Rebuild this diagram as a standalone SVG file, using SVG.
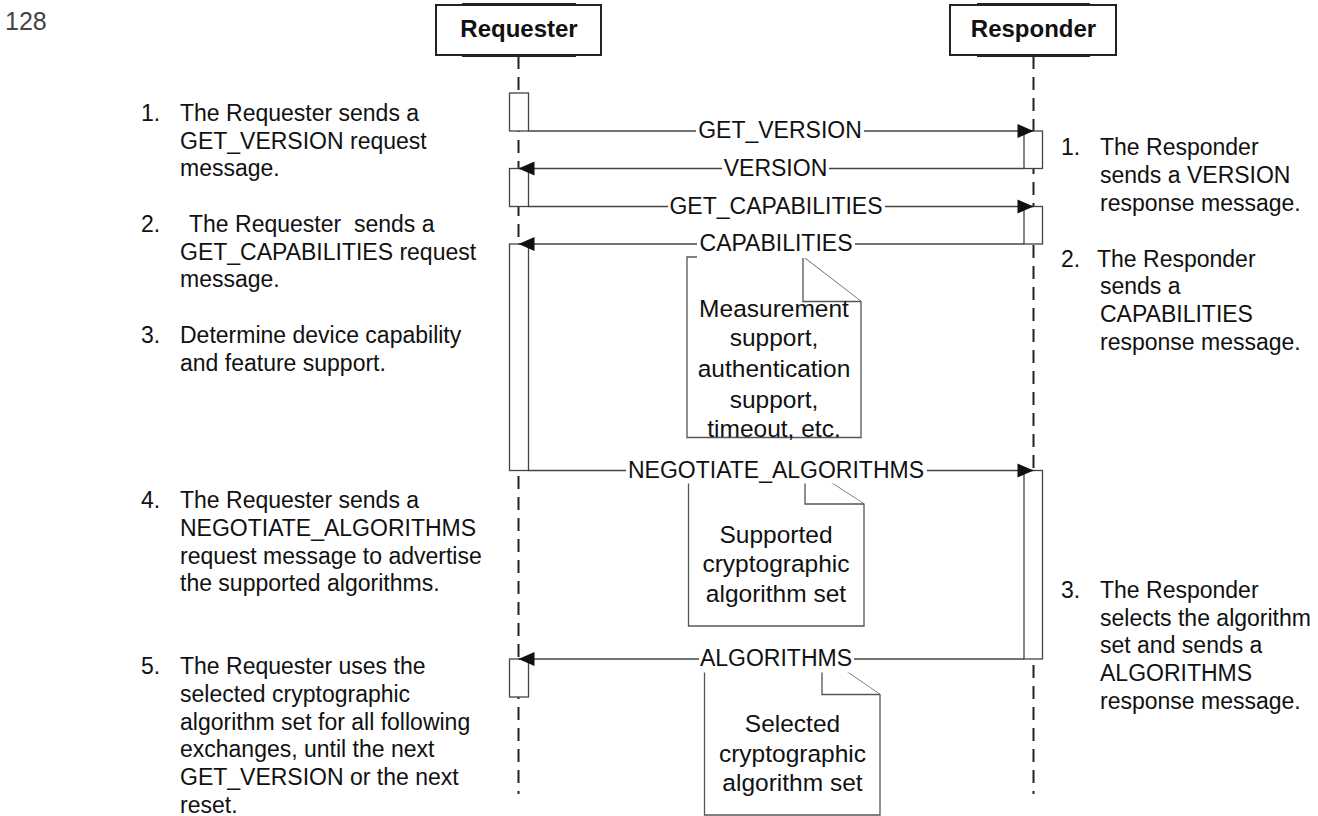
<svg xmlns="http://www.w3.org/2000/svg" width="1318" height="816" viewBox="0 0 1318 816">
  <defs>
    <style>
      .t { font-family: "Liberation Sans", Arial, sans-serif; font-size: 23px; fill: #111; }
      .title { font-family: "Liberation Sans", Arial, sans-serif; font-size: 24px; font-weight: bold; fill: #111; text-anchor: middle; }
      .note-t { font-family: "Liberation Sans", Arial, sans-serif; font-size: 24.5px; fill: #111; text-anchor: middle; }
      .lbl { font-family: "Liberation Sans", Arial, sans-serif; font-size: 23px; fill: #111; text-anchor: middle; }
      .head { fill: #fff; stroke: #222; stroke-width: 2; }
      .head-bar { stroke: #222; stroke-width: 3; }
      .life { stroke: #222; stroke-width: 2; stroke-dasharray: 13 8; fill: none; }
      .act { fill: #fff; stroke: #444; stroke-width: 1.3; }
      .note { fill: #fff; stroke: #555; stroke-width: 1.3; stroke-linejoin: miter; }
      .msg { stroke: #444; stroke-width: 1.3; fill: none; marker-end: url(#arrow); }
      .lbl-bg { fill: #fff; }
    </style>
    <marker id="arrow" markerUnits="userSpaceOnUse" markerWidth="17" markerHeight="14" refX="16" refY="7" orient="auto" overflow="visible">
      <path d="M0,0 L16,7 L0,14 Z" fill="#111"/>
    </marker>
  </defs>

  <rect width="1318" height="816" fill="#fff"/>

  <!-- page number -->
  <text x="5" y="30" style="font-family: 'Liberation Sans', Arial, sans-serif; font-size: 25px; fill: #444;">128</text>

  <!-- Requester lifeline -->
  <g id="requester">
    <line class="life" x1="518.5" y1="56" x2="518.5" y2="794"/>
    <rect class="head" x="436" y="5" width="165" height="50"/>
    <line class="head-bar" x1="462" y1="4.5" x2="576" y2="4.5"/>
    <line class="head-bar" x1="462" y1="55.5" x2="576" y2="55.5"/>
    <text class="title" x="519" y="36.5">Requester</text>
  </g>

  <!-- Responder lifeline -->
  <g id="responder">
    <line class="life" x1="1033.5" y1="56" x2="1033.5" y2="794"/>
    <rect class="head" x="950" y="5" width="166" height="50"/>
    <line class="head-bar" x1="977" y1="4.5" x2="1090" y2="4.5"/>
    <line class="head-bar" x1="977" y1="55.5" x2="1090" y2="55.5"/>
    <text class="title" x="1033.5" y="36.5">Responder</text>
  </g>

  <!-- activation bars -->
  <g id="activations">
    <rect class="act" x="509.5" y="93" width="19" height="38"/>
    <rect class="act" x="509.5" y="168.5" width="19" height="38"/>
    <rect class="act" x="509.5" y="244" width="19" height="226.5"/>
    <rect class="act" x="509.5" y="659" width="19" height="38"/>
    <rect class="act" x="1024" y="131" width="18.5" height="37.5"/>
    <rect class="act" x="1024" y="206.5" width="18.5" height="37.5"/>
    <rect class="act" x="1024" y="470.5" width="18.5" height="188.5"/>
  </g>

  <!-- notes attached to messages -->
  <g id="note-capabilities">
    <path class="note" d="M687,257 H803 L861,301.5 V437.5 H687 Z"/>
    <path class="note" d="M803,257 V301.5 H861" fill="none"/>
    <text class="note-t" x="774" y="316.7">Measurement</text>
    <text class="note-t" x="774" y="346">support,</text>
    <text class="note-t" x="774" y="376.5">authentication</text>
    <text class="note-t" x="774" y="407.5">support,</text>
    <text class="note-t" x="774" y="437">timeout, etc.</text>
  </g>

  <g id="note-negotiate">
    <path class="note" d="M688.5,466 H805 L864,504 V626 H688.5 Z"/>
    <path class="note" d="M805,466 V504 H864" fill="none"/>
    <text class="note-t" x="776" y="543.3">Supported</text>
    <text class="note-t" x="776" y="572.3">cryptographic</text>
    <text class="note-t" x="776" y="601.5">algorithm set</text>
  </g>

  <g id="note-algorithms">
    <path class="note" d="M704.5,655 H822 L880,694.5 V815 H704.5 Z"/>
    <path class="note" d="M822,655 V694.5 H880" fill="none"/>
    <text class="note-t" x="792.5" y="732">Selected</text>
    <text class="note-t" x="792.5" y="761.5">cryptographic</text>
    <text class="note-t" x="792.5" y="790.5">algorithm set</text>
  </g>

  <!-- messages -->
  <g id="connectors">
    <line class="msg" x1="528.5" y1="131" x2="1033.5" y2="131"/>
    <line class="msg" x1="1024" y1="168.5" x2="518.5" y2="168.5"/>
    <line class="msg" x1="528.5" y1="206.5" x2="1033.5" y2="206.5"/>
    <line class="msg" x1="1024" y1="244" x2="518.5" y2="244"/>
    <line class="msg" x1="528.5" y1="470.5" x2="1033.5" y2="470.5"/>
    <line class="msg" x1="1024" y1="659" x2="518.5" y2="659"/>

    <rect class="lbl-bg" x="696" y="118" width="168" height="26.5"/>
    <text class="lbl" x="780" y="138">GET_VERSION</text>

    <rect class="lbl-bg" x="722" y="155.5" width="107" height="26.5"/>
    <text class="lbl" x="775.5" y="175.5">VERSION</text>

    <rect class="lbl-bg" x="668" y="193.5" width="217" height="26.5"/>
    <text class="lbl" x="776" y="213.5">GET_CAPABILITIES</text>

    <rect class="lbl-bg" x="697" y="231" width="158" height="27"/>
    <text class="lbl" x="776" y="251">CAPABILITIES</text>

    <rect class="lbl-bg" x="626" y="457.5" width="301" height="26"/>
    <text class="lbl" x="776" y="477.5">NEGOTIATE_ALGORITHMS</text>

    <rect class="lbl-bg" x="699" y="646" width="155" height="26.5"/>
    <text class="lbl" x="776" y="666">ALGORITHMS</text>
  </g>

  <!-- Requester side steps -->
  <g id="requester-steps">
    <text class="t" x="141" y="121">1.</text>
    <text class="t" x="180" y="121">The Requester sends a</text>
    <text class="t" x="180" y="148.5">GET_VERSION request</text>
    <text class="t" x="180" y="176">message.</text>

    <text class="t" x="141" y="232">2.</text>
    <text class="t" x="189" y="232" xml:space="preserve">The Requester  sends a</text>
    <text class="t" x="180" y="259.5">GET_CAPABILITIES request</text>
    <text class="t" x="180" y="287">message.</text>

    <text class="t" x="141" y="343">3.</text>
    <text class="t" x="180" y="343">Determine device capability</text>
    <text class="t" x="180" y="370.5">and feature support.</text>

    <text class="t" x="141" y="508">4.</text>
    <text class="t" x="180" y="508">The Requester sends a</text>
    <text class="t" x="180" y="536">NEGOTIATE_ALGORITHMS</text>
    <text class="t" x="180" y="563.5">request message to advertise</text>
    <text class="t" x="180" y="591">the supported algorithms.</text>

    <text class="t" x="141" y="674">5.</text>
    <text class="t" x="180" y="674">The Requester uses the</text>
    <text class="t" x="180" y="702">selected cryptographic</text>
    <text class="t" x="180" y="729.5">algorithm set for all following</text>
    <text class="t" x="180" y="757">exchanges, until the next</text>
    <text class="t" x="180" y="785">GET_VERSION or the next</text>
    <text class="t" x="180" y="812.5">reset.</text>
  </g>

  <!-- Responder side steps -->
  <g id="responder-steps">
    <text class="t" x="1061" y="155">1.</text>
    <text class="t" x="1100" y="155">The Responder</text>
    <text class="t" x="1100" y="183">sends a VERSION</text>
    <text class="t" x="1100" y="210.7">response message.</text>

    <text class="t" x="1061" y="266.7">2.</text>
    <text class="t" x="1097" y="266.7">The Responder</text>
    <text class="t" x="1100" y="293.5">sends a</text>
    <text class="t" x="1100" y="321.7">CAPABILITIES</text>
    <text class="t" x="1100" y="350">response message.</text>

    <text class="t" x="1061" y="598.3">3.</text>
    <text class="t" x="1100" y="598.3">The Responder</text>
    <text class="t" x="1100" y="626">selects the algorithm</text>
    <text class="t" x="1100" y="653.3">set and sends a</text>
    <text class="t" x="1100" y="681">ALGORITHMS</text>
    <text class="t" x="1100" y="708.5">response message.</text>
  </g>
</svg>
